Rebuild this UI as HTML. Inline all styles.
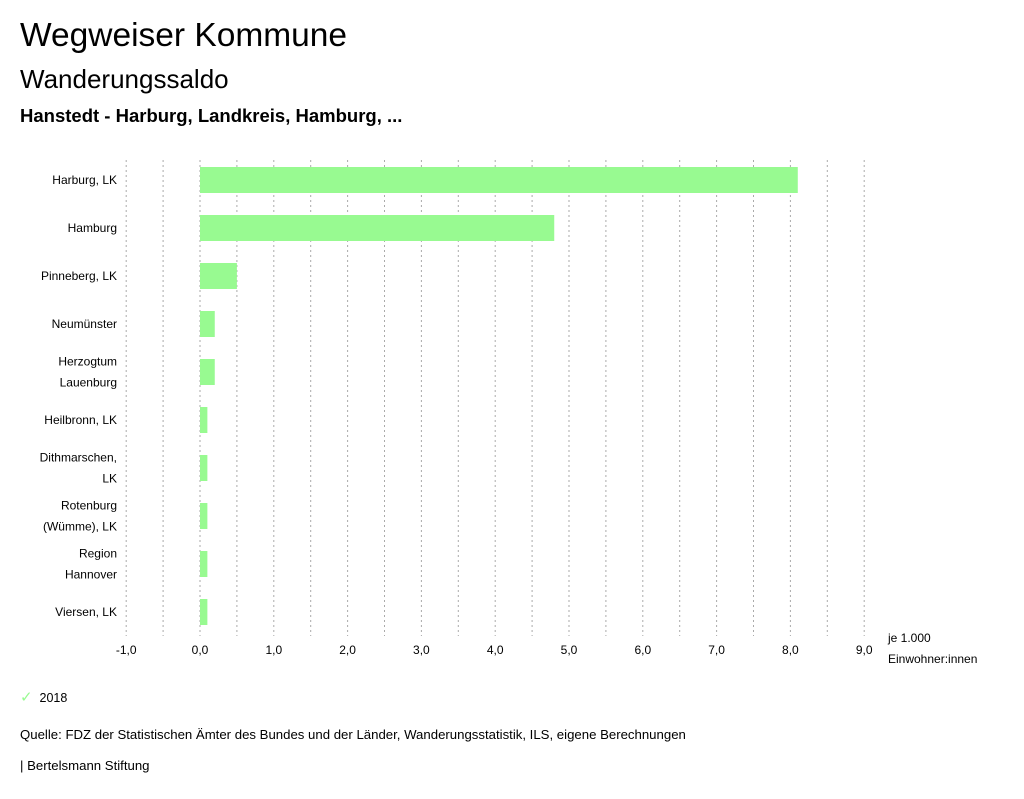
<!DOCTYPE html>
<html><head><meta charset="utf-8"><style>
body{margin:0;background:#fff;font-family:"Liberation Sans","DejaVu Sans",sans-serif;color:#000}
.t{position:absolute;white-space:nowrap}
</style></head><body>
<div style="position:relative;width:1024px;height:799px;overflow:hidden">
<div class="t" style="left:20px;top:17px;font-size:33.5px">Wegweiser Kommune</div>
<div class="t" style="left:20px;top:64px;font-size:26px">Wanderungssaldo</div>
<div class="t" style="left:20px;top:105px;font-size:18.5px;font-weight:bold">Hanstedt - Harburg, Landkreis, Hamburg, ...</div>
<svg id="chart" width="1024" height="799" style="position:absolute;left:0;top:0;font-family:'Liberation Sans',sans-serif;font-size:12px"></svg>
<div class="t" style="left:20px;top:688px;font-size:12.5px"><span style="color:#98fa91;font-size:15px">✓</span>&nbsp;&nbsp;2018</div>
<div class="t" style="left:20px;top:727px;font-size:13.2px">Quelle: FDZ der Statistischen Ämter des Bundes und der Länder, Wanderungsstatistik, ILS, eigene Berechnungen</div>
<div class="t" style="left:20px;top:758px;font-size:13.2px">| Bertelsmann Stiftung</div>
</div>
<script>
const categories=[["Harburg, LK"],["Hamburg"],["Pinneberg, LK"],["Neumünster"],["Herzogtum","Lauenburg"],["Heilbronn, LK"],["Dithmarschen,","LK"],["Rotenburg","(Wümme), LK"],["Region","Hannover"],["Viersen, LK"]];
const values=[8.1,4.8,0.5,0.2,0.2,0.1,0.1,0.1,0.1,0.1];
const ticks=[-1,0,1,2,3,4,5,6,7,8,9];
const svg=document.getElementById('chart');
const NS='http://www.w3.org/2000/svg';
const x=v=>200+(v)*73.8;
const y=i=>180+i*48;
function mk(t,a){const e=document.createElementNS(NS,t);for(const k in a)e.setAttribute(k,a[k]);svg.appendChild(e);return e;}
for(let v=-1;v<=9.001;v+=0.5){
 const g=mk('line',{x1:x(v),x2:x(v),y1:160,y2:636,stroke:'#aaa','stroke-dasharray':'2,3'});
 
 
}
ticks.forEach(v=>{
 const t=mk('text',{x:x(v),y:654,'text-anchor':'middle'});
 t.textContent=v.toFixed(1).replace('.',',');
 
 
});
const u1=mk('text',{x:888,y:642});u1.textContent='je 1.000';


const u2=mk('text',{x:888,y:663});u2.textContent='Einwohner:innen';


values.forEach((v,i)=>{
 const r=mk('rect',{x:Math.min(x(0),x(v)),y:y(i)-13,width:Math.abs(x(v)-x(0)),height:26,fill:'#98fa91'});
 
 
 const lines=categories[i];
 lines.forEach((s,j)=>{
  const t=mk('text',{x:117,y:y(i)+4+(j-(lines.length-1)/2)*21,'text-anchor':'end'});
  t.textContent=s;
  
  
 });
});
</script>
</body></html>
